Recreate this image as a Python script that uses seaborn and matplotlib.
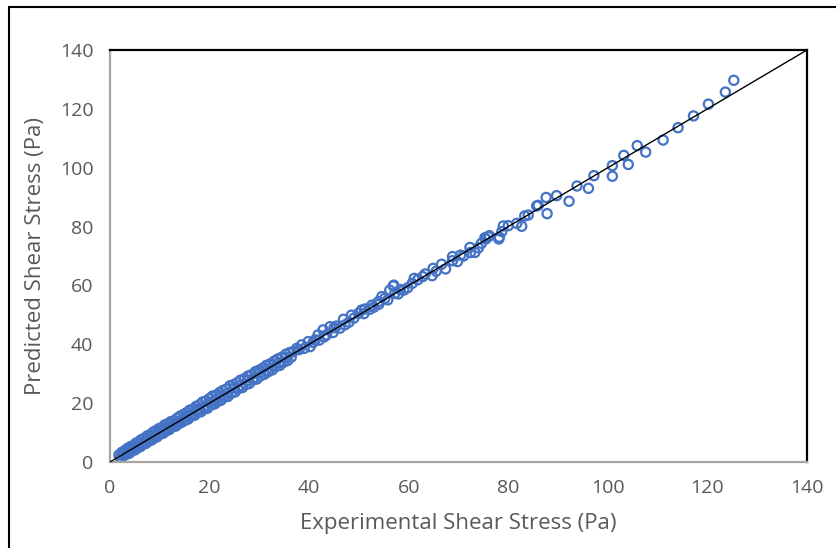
import numpy as np
import matplotlib
matplotlib.use("Agg")
import matplotlib.pyplot as plt
import seaborn as sns
from matplotlib.patches import Rectangle

# experimental vs predicted shear stress (Pa)
exp_low = [1.8, 2.4, 3.0, 3.5, 4.1, 4.6, 5.2, 5.8, 6.3, 6.9, 7.5, 8.1, 8.7, 9.2, 9.8, 10.4, 11.0, 11.6,
           12.2, 12.9, 13.5, 14.1, 14.8, 15.4, 16.0, 16.7, 17.3, 18.0, 18.6, 19.3, 20.0, 20.6, 21.3,
           22.0, 22.7, 23.4, 24.1, 24.8, 25.5, 26.2, 27.0, 27.7, 28.4, 29.2, 29.9, 30.7, 31.4, 32.2,
           33.0, 33.7, 34.5, 35.3, 36.1,
           2.1, 2.7, 3.3, 3.9, 4.4, 5.0, 5.5, 6.1, 6.6, 7.2, 7.8, 8.4, 9.0, 9.5, 10.1, 10.7, 11.3,
           11.9, 12.5, 13.2, 13.8, 14.4, 15.1, 15.7, 16.3, 17.0, 17.6, 18.3, 19.0, 19.6, 20.3, 21.0,
           21.6, 22.3, 23.0, 23.7, 24.4, 25.1, 25.8, 26.6, 27.3, 28.0, 28.8, 29.5, 30.3, 31.0, 31.8,
           32.6, 33.3, 34.1, 34.9, 35.7, 36.4,
           2.6, 3.7, 4.8, 6.0, 7.1, 8.3, 9.4, 10.6, 11.7, 12.9, 14.0, 15.2, 16.4, 17.6, 18.8, 20.0,
           21.2, 22.5, 23.7, 25.0, 26.2, 27.5, 28.8, 30.1, 31.4, 32.7, 34.0, 35.3]
pred_low = [2.4, 3.3, 3.9, 4.6, 5.2, 5.5, 6.4, 6.9, 7.6, 8.1, 8.9, 9.3, 10.2, 10.6, 11.3, 11.7, 12.6, 13.0,
            13.7, 14.1, 14.9, 15.6, 16.2, 16.8, 17.6, 18.0, 18.9, 19.5, 20.4, 20.8, 21.6, 22.4, 22.7,
            23.6, 24.3, 24.8, 25.9, 26.3, 26.9, 27.8, 28.3, 29.2, 29.6, 30.7, 31.2, 31.9, 32.8, 33.4,
            34.3, 35.0, 35.6, 36.6, 37.2,
            1.5, 2.1, 2.6, 3.0, 3.9, 4.1, 4.8, 5.2, 6.0, 6.3, 7.1, 7.5, 8.3, 8.6, 9.5, 9.8, 10.6,
            11.0, 11.9, 12.2, 13.0, 13.5, 14.2, 14.6, 15.5, 15.9, 16.8, 17.1, 18.0, 18.3, 19.4, 19.7,
            20.5, 21.0, 22.1, 22.3, 23.4, 23.8, 24.9, 25.3, 26.3, 26.7, 27.9, 28.2, 29.3, 29.8, 30.7,
            31.3, 32.4, 32.8, 33.9, 34.5, 35.6,
            2.7, 3.9, 4.7, 6.2, 7.0, 8.5, 9.3, 10.8, 11.6, 13.1, 13.9, 15.4, 16.3, 17.8, 18.6, 20.2,
            21.1, 22.7, 23.5, 25.2, 26.0, 27.7, 28.6, 30.3, 31.2, 32.9, 33.8, 35.5]

exp_mid = [36.8, 37.5, 38.5, 39.8, 40.2, 41.2, 41.8, 42.8, 43.5, 44.2, 45.5, 46.9, 47.2, 48.5, 49.9,
           50.5, 51.2, 52.2, 52.6, 53.9, 54.6, 55.2, 56.2, 56.9, 57.0, 57.2, 57.9, 59.0, 60.7, 61.1,
           62.8, 63.3, 64.7, 64.9, 66.6, 67.4, 68.8, 68.8, 69.8, 72.3, 72.4, 73.3, 74.0, 74.6, 75.3,
           75.5, 76.0, 76.2, 78.1, 78.2, 78.7, 79.0,
           38.0, 39.0, 40.8, 42.0, 43.0, 44.8, 45.0, 46.2, 48.0, 49.0, 51.0, 53.0, 54.0, 55.8, 58.3,
           59.8, 61.8, 65.5, 70.4, 71.0]
pred_mid = [37.5, 38.6, 39.8, 40.9, 39.2, 41.5, 43.2, 44.9, 43.2, 46.0, 46.2, 48.5, 46.6, 49.9, 50.5,
            51.6, 52.0, 51.9, 53.3, 54.5, 56.2, 55.6, 58.4, 59.8, 60.1, 57.3, 57.1, 58.4, 60.7, 62.4,
            63.0, 63.9, 63.3, 65.8, 67.2, 65.6, 69.8, 68.4, 68.1, 72.9, 71.2, 71.2, 72.8, 74.3, 76.2,
            75.8, 76.6, 76.9, 75.8, 76.4, 78.3, 80.2,
            38.2, 38.6, 40.6, 41.4, 42.5, 44.0, 45.6, 45.5, 47.5, 48.9, 50.4, 52.6, 53.6, 55.1, 58.6,
            59.2, 61.9, 64.8, 70.3, 70.0]

exp_high = [80.0, 81.7, 82.7, 83.3, 84.0, 85.7, 86.0, 87.6, 87.8, 89.7, 92.2, 93.8, 96.1, 97.2, 100.9,
            100.9, 103.2, 104.1, 105.9, 107.6, 111.1, 114.1, 117.2, 120.2, 123.6, 125.3]
pred_high = [80.3, 81.1, 80.1, 83.6, 83.9, 87.0, 87.2, 89.9, 84.4, 90.5, 88.6, 93.8, 93.0, 97.3, 100.7,
             97.1, 104.2, 101.1, 107.5, 105.3, 109.4, 113.6, 117.6, 121.6, 125.7, 129.7]

experimental = np.array(exp_low + exp_mid + exp_high)
predicted = np.array(pred_low + pred_mid + pred_high)
ref_line = [0, 140]

sns.set_style("white")
plt.rcParams["font.family"] = ["Open Sans", "DejaVu Sans"]

fig = plt.figure(figsize=(8.37, 5.48), dpi=100)
ax = fig.add_axes([110 / 837, 1 - 462 / 548, 697 / 837, 412 / 548])

sns.scatterplot(x=experimental, y=predicted, ax=ax, marker="o", s=44,
                facecolors="none", edgecolor="#4472C4", linewidth=1.6, zorder=2)
sns.lineplot(x=ref_line, y=ref_line, ax=ax, color="black", linewidth=1.0, zorder=3)

ax.set_xlim(0, 140)
ax.set_ylim(0, 140)
ax.set_xticks(range(0, 141, 20))
ax.set_yticks(range(0, 141, 20))
ax.tick_params(length=0, labelsize=14, labelcolor="#595959", pad=12)
ax.set_xlabel("Experimental Shear Stress (Pa)", fontsize=16, color="#595959", labelpad=12)
ax.set_ylabel("Predicted Shear Stress (Pa)", fontsize=16, color="#595959", labelpad=10)

for side in ["top", "right"]:
    ax.spines[side].set_color("black")
    ax.spines[side].set_linewidth(1.6)
for side in ["left", "bottom"]:
    ax.spines[side].set_color("#A6A6A6")
    ax.spines[side].set_linewidth(1.6)

# chart area border
fig.patches.append(Rectangle((9 / 837, -0.05), 1.0, 1 - 7 / 548 + 0.05, transform=fig.transFigure,
                             fill=False, edgecolor="black", linewidth=1.5))

fig.savefig("out.png", dpi=100)
